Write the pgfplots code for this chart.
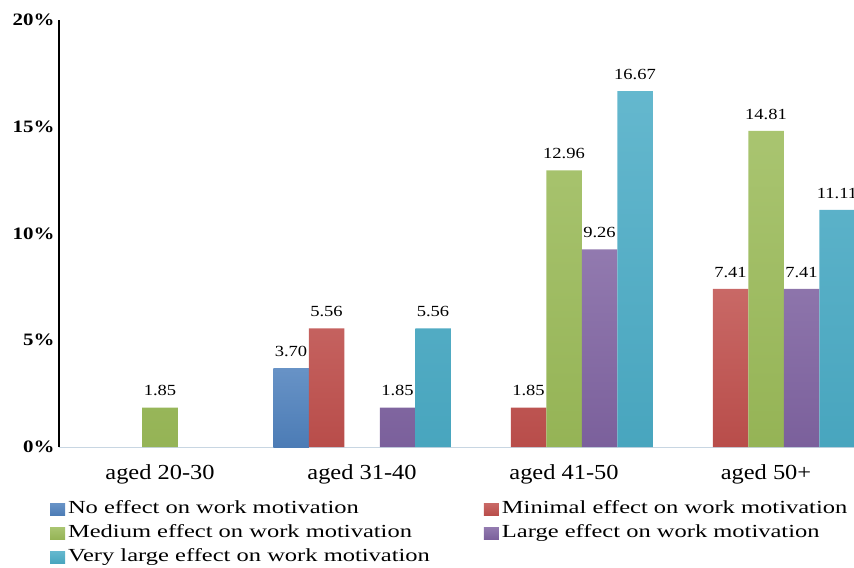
\documentclass[border=0pt]{standalone}
\usepackage{pgfplots}
\pgfplotsset{compat=1.18}
\usepackage{fontspec}
\setmainfont[FakeStretch=1.2]{Liberation Serif}
\newfontfamily\legfont[FakeStretch=1.33]{Liberation Serif}
\newfontfamily\catfont[FakeStretch=1.14]{Liberation Serif}

\definecolor{cNone}{HTML}{4F81BD}
\definecolor{cMinimal}{HTML}{C0504D}
\definecolor{cMedium}{HTML}{9BBB59}
\definecolor{cLarge}{HTML}{8064A2}
\definecolor{cVery}{HTML}{4BACC6}
\definecolor{baseline}{HTML}{C8D6E2}

\pgfplotsset{
  shadedbar/.style={draw=none, top color=#1!86!white, bottom color=#1!96!black},
}

\begin{document}
\begin{tikzpicture}
\begin{axis}[
  x=202bp, y=21.35bp,
  xmin=-0.5, xmax=3.5, ymin=0, ymax=20,
  ybar=0pt, bar width=35.5bp,
  axis x line=bottom, axis y line=left, axis line style={-},
  x axis line style={draw=baseline, line width=1bp},
  y axis line style={draw=black, line width=1.4bp},
  xtick={0,1,2,3},
  xticklabels={aged 20-30, aged 31-40, aged 41-50, aged 50+},
  ytick={0,5,10,15,20},
  yticklabel={\pgfmathprintnumber{\tick}\%},
  /pgf/number format/assume math mode=true,
  major tick length=0pt,
  xticklabel style={font=\catfont\fontsize{21.5}{23}\selectfont, anchor=north, yshift=-14bp},
  yticklabel style={font=\fontsize{17.5}{19}\selectfont\bfseries, anchor=east, xshift=-1bp},
  clip=false,
  nodes near coords={\pgfmathprintnumber[fixed,fixed zerofill,precision=2]{\pgfplotspointmeta}},
  every node near coord/.append style={font=\fontsize{15.5}{17}\selectfont, text=black, anchor=south, yshift=8bp},
  legend columns=2,
  legend cell align=left,
  legend style={
    at={(-0.0111,-0.124)}, anchor=north west,
    draw=none, fill=none, inner sep=0pt, outer sep=0pt,
    row sep=5bp,
    font=\legfont\fontsize{18.5}{20}\selectfont,
    nodes={inner xsep=3bp, inner ysep=1bp, text height=13bp, text depth=4bp},
    /tikz/every even column/.append style={column sep=51bp},
  },
  every axis plot post/.append style={
    legend image code/.code={\path[##1] (0bp,-6bp) rectangle (15bp,6bp);}
  },
]
\addplot[shadedbar=cNone] coordinates {(1,3.70)};
\addplot[shadedbar=cMinimal] coordinates {(1,5.56) (2,1.85) (3,7.41)};
\addplot[shadedbar=cMedium] coordinates {(0,1.85) (2,12.96) (3,14.81)};
\addplot[shadedbar=cLarge] coordinates {(1,1.85) (2,9.26) (3,7.41)};
\addplot[shadedbar=cVery] coordinates {(1,5.56) (2,16.67) (3,11.11)};
\legend{No effect on work motivation, Minimal effect on work motivation,
  Medium effect on work motivation, Large effect on work motivation,
  Very large effect on work motivation}
\coordinate (O) at (rel axis cs:0,0);
\end{axis}
\pgfresetboundingbox
\path[use as bounding box] ([shift={(-59bp,-121bp)}]O) rectangle ([shift={(795bp,447bp)}]O);
\end{tikzpicture}
\end{document}
